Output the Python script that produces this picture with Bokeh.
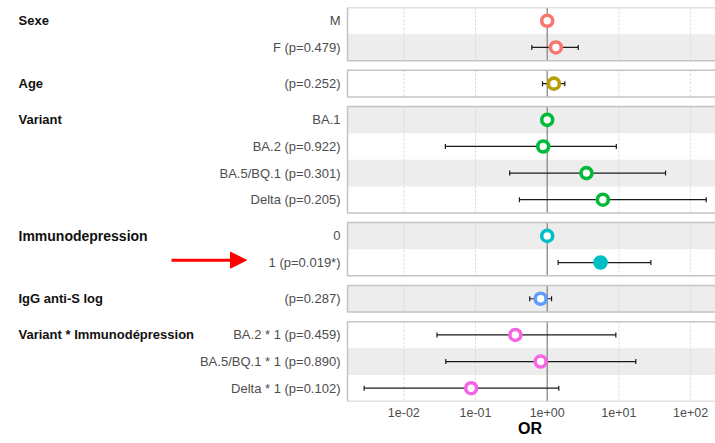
import numpy as np
from bokeh.plotting import figure
from bokeh.models import ColumnDataSource, Range1d, FixedTicker, Arrow, NormalHead
from bokeh.layouts import row
from bokeh.embed import file_html
from bokeh.resources import INLINE
from bokeh.core.properties import value

# ---------------- data ----------------
groups = ["Sexe", "Age", "Variant", "Immunodepression", "IgG anti-S log",
          "Variant * Immunodépression"]
group_colors = ["#F8766D", "#B79F00", "#00BA38", "#00BFC4", "#619CFF", "#F564E3"]
row_labels = ["M", "F (p=0.479)", "(p=0.252)", "BA.1", "BA.2 (p=0.922)",
              "BA.5/BQ.1 (p=0.301)", "Delta (p=0.205)", "0", "1 (p=0.019*)",
              "(p=0.287)", "BA.2 * 1 (p=0.459)", "BA.5/BQ.1 * 1 (p=0.890)",
              "Delta * 1 (p=0.102)"]
row_group = [0, 0, 1, 2, 2, 2, 2, 3, 3, 4, 5, 5, 5]
odds_ratio = [1.0, 1.32, 1.24, 1.0, 0.88, 3.53, 5.97, 1.0, 5.54, 0.81, 0.36, 0.81, 0.087]
ci_low = [np.nan, 0.61, 0.86, np.nan, 0.038, 0.30, 0.41, np.nan, 1.42, 0.57, 0.029, 0.0385, 0.0028]
ci_high = [np.nan, 2.71, 1.76, np.nan, 9.2, 44.7, 165.0, np.nan, 27.9, 1.15, 9.06, 17.2, 1.45]
p_values = [np.nan, 0.479, 0.252, np.nan, 0.922, 0.301, 0.205, np.nan, 0.019, 0.287, 0.459, 0.890, 0.102]
tick_values = [0.01, 0.1, 1.0, 10.0, 100.0]
tick_labels = ["1e-02", "1e-01", "1e+00", "1e+01", "1e+02"]
highlight_row = 8

# ---------------- layout constants ----------------
FONT = "Liberation Sans"
GAP = 0.36
FRAME_H = 394
TOP = 7
LEFT_W = 344
RIGHT_W = 371
X_LO = 10 ** -2.827
X_HI = 10 ** 2.347
PANEL_L = 10 ** -2.785
PANEL_R = 10 ** 3.0

n = len(row_labels)
ng = len(groups)
y_top = [i + g * GAP for i, g in enumerate(row_group)]
y_bot = [t + 1 for t in y_top]
y_mid = [t + 0.5 for t in y_top]
y_max = n + (ng - 1) * GAP

panel_top = [min(y_top[i] for i in range(n) if row_group[i] == g) for g in range(ng)]
panel_bot = [max(y_bot[i] for i in range(n) if row_group[i] == g) for g in range(ng)]

# ---------------- right (forest) figure ----------------
p = figure(x_axis_type="log", x_range=Range1d(X_LO, X_HI),
           y_range=Range1d(y_max, 0), frame_width=RIGHT_W, frame_height=FRAME_H,
           min_border_left=0, min_border_right=0, min_border_top=TOP, min_border_bottom=0,
           output_backend="svg", toolbar_location=None, y_axis_location=None)
p.outline_line_color = None
p.xgrid.visible = False
p.ygrid.visible = False

# stripes
stripe_idx = [i for i in range(n) if i % 2 == 1]
p.quad(left=[PANEL_L] * len(stripe_idx), right=[PANEL_R] * len(stripe_idx),
       top=[y_top[i] for i in stripe_idx], bottom=[y_bot[i] for i in stripe_idx],
       fill_color="#ededed", line_color=None)

# dashed grid per panel
gx, gy0, gy1 = [], [], []
for g in range(ng):
    for t in tick_values:
        gx.append(t); gy0.append(panel_top[g]); gy1.append(panel_bot[g])
p.segment(x0=gx, x1=gx, y0=gy0, y1=gy1, line_color="#d6d6d6", line_width=1, line_dash="2 2")

# reference line at OR = 1 per panel
p.segment(x0=[1.0] * ng, x1=[1.0] * ng, y0=panel_top, y1=panel_bot,
          line_color="#7a7a7a", line_width=1.1)

# panel borders
p.quad(left=[PANEL_L] * ng, right=[PANEL_R] * ng, top=panel_top, bottom=panel_bot,
       fill_color=None, line_color="#c4c4c4", line_width=1.5)

# error bars
ci_rows = [i for i in range(n) if not np.isnan(ci_low[i])]
src_ci = ColumnDataSource(dict(
    lo=[ci_low[i] for i in ci_rows], hi=[ci_high[i] for i in ci_rows],
    y=[y_mid[i] for i in ci_rows]))
p.segment(x0="lo", x1="hi", y0="y", y1="y", source=src_ci, line_color="#1a1a1a", line_width=1.2)
p.scatter(x="lo", y="y", source=src_ci, marker="dash", angle=np.pi / 2, size=5,
          line_color="#1a1a1a", line_width=1.2)
p.scatter(x="hi", y="y", source=src_ci, marker="dash", angle=np.pi / 2, size=5,
          line_color="#1a1a1a", line_width=1.2)

# points
colors = [group_colors[g] for g in row_group]
fills = [colors[i] if (not np.isnan(p_values[i]) and p_values[i] < 0.05) else "white"
         for i in range(n)]
src_pt = ColumnDataSource(dict(x=odds_ratio, y=y_mid, c=colors, f=fills))
p.scatter(x="x", y="y", source=src_pt, marker="circle", size=11,
          line_color="c", fill_color="f", line_width=3.6)

# axis
ax = p.xaxis[0]
ax.ticker = FixedTicker(ticks=tick_values)
ax.major_label_overrides = {t: l for t, l in zip(tick_values, tick_labels)}
ax.axis_line_color = None
ax.major_tick_line_color = None
ax.minor_tick_line_color = None
ax.major_tick_out = 0
ax.major_tick_in = 0
ax.major_label_standoff = 6
ax.major_label_text_font = FONT
ax.major_label_text_font_size = "12.5px"
ax.major_label_text_color = "#4d4d4d"
ax.axis_label = "OR"
ax.axis_label_standoff = 0
ax.axis_label_text_font = FONT
ax.axis_label_text_font_size = "16px"
ax.axis_label_text_font_style = "bold"
ax.axis_label_text_color = "black"

# ---------------- left (labels) figure ----------------
lf = figure(x_range=Range1d(0, LEFT_W), y_range=p.y_range,
            frame_width=LEFT_W, frame_height=FRAME_H,
            min_border_left=0, min_border_right=0, min_border_top=TOP, min_border_bottom=40,
            output_backend="svg", toolbar_location=None,
            x_axis_location=None, y_axis_location=None)
lf.outline_line_color = None
lf.xgrid.visible = False
lf.ygrid.visible = False

lf.text(x=[340] * n, y=y_mid, text=row_labels, text_align="right", text_baseline="middle",
        text_font=value(FONT), text_font_size=value("13px"), text_color="#4d4d4d")

first_rows = [min(i for i in range(n) if row_group[i] == g) for g in range(ng)]
grp_sizes = ["14px" if g == 3 else "13px" for g in range(ng)]
src_grp = ColumnDataSource(dict(x=[18] * ng, y=[y_mid[i] for i in first_rows],
                                t=groups, s=grp_sizes))
lf.text(x="x", y="y", text="t", source=src_grp, text_align="left", text_baseline="middle",
        text_font=value(FONT), text_font_size="s", text_font_style="bold",
        text_color="#111111")

ya = y_mid[highlight_row] - 0.09
lf.add_layout(Arrow(end=NormalHead(size=16, fill_color="#ff0000", line_color="#ff0000", line_width=1),
                    x_start=171, x_end=246, y_start=ya, y_end=ya,
                    line_color="#ff0000", line_width=3))

layout = row(lf, p)
open("out.html", "w").write(file_html(layout, INLINE))
